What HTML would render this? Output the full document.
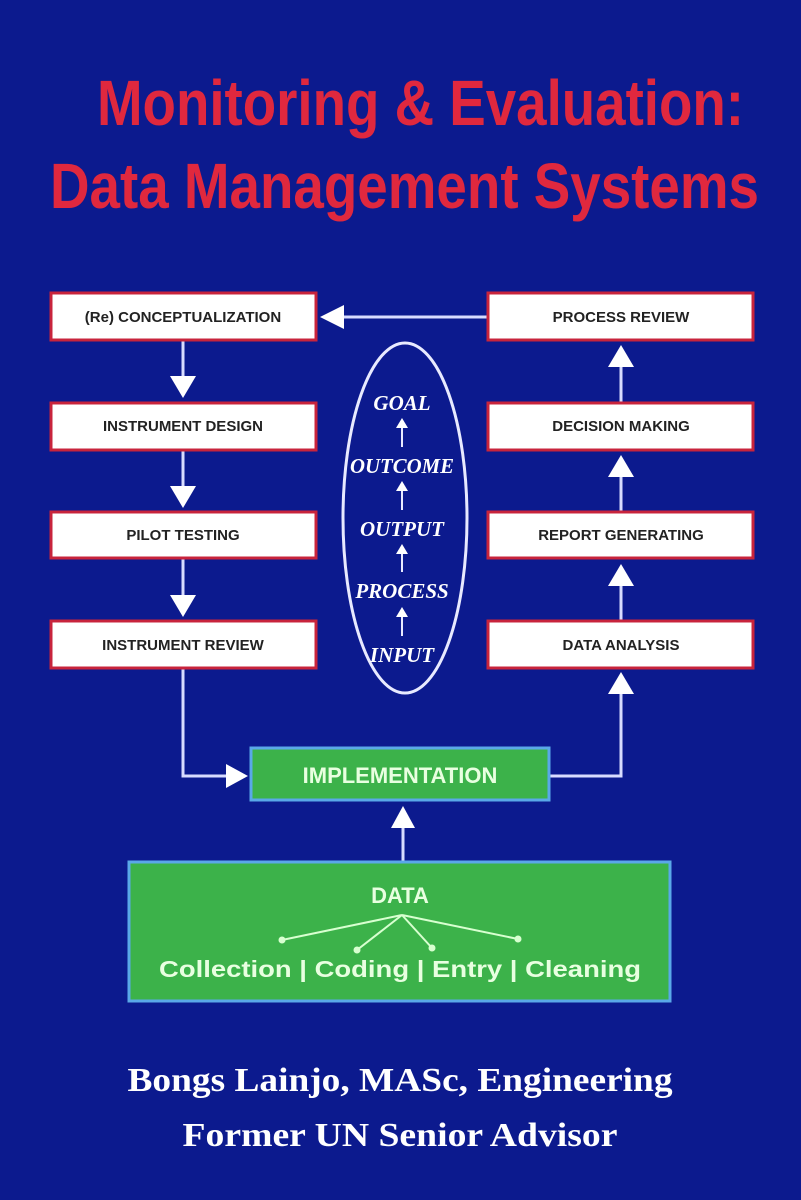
<!DOCTYPE html>
<html><head><meta charset="utf-8"><style>
html,body{margin:0;padding:0;background:#0c1a8e;}
svg{display:block}
</style></head><body>
<svg width="801" height="1200" viewBox="0 0 801 1200" xmlns="http://www.w3.org/2000/svg">
<rect width="801" height="1200" fill="#0c1a8e"/>
<g font-family="Liberation Sans, Arial, sans-serif" font-weight="bold" fill="#e0283e">
<text x="97" y="125" font-size="64" textLength="647" lengthAdjust="spacingAndGlyphs">Monitoring &amp; Evaluation:</text>
<text x="50" y="208" font-size="64" textLength="709" lengthAdjust="spacingAndGlyphs">Data Management Systems</text>
</g>
<g stroke="#d8dcff" stroke-width="3" fill="none">
<line x1="487" y1="317" x2="335" y2="317"/>
<line x1="183" y1="340" x2="183" y2="380"/>
<line x1="183" y1="450" x2="183" y2="490"/>
<line x1="183" y1="558" x2="183" y2="598"/>
<polyline points="183,668 183,776 232,776"/>
<polyline points="550,776 621,776 621,690"/>
<line x1="621" y1="620" x2="621" y2="580"/>
<line x1="621" y1="511" x2="621" y2="470"/>
<line x1="621" y1="402" x2="621" y2="360"/>
<line x1="403" y1="861" x2="403" y2="820"/>
</g>
<g fill="#ffffff">
<polygon points="320,317 344,305 344,329"/>
<polygon points="183,398 170,376 196,376"/>
<polygon points="183,508 170,486 196,486"/>
<polygon points="183,617 170,595 196,595"/>
<polygon points="248,776 226,764 226,788"/>
<polygon points="621,672 608,694 634,694"/>
<polygon points="621,564 608,586 634,586"/>
<polygon points="621,455 608,477 634,477"/>
<polygon points="621,345 608,367 634,367"/>
<polygon points="403,806 391,828 415,828"/>
</g>
<g fill="#ffffff" stroke="#c8243c" stroke-width="3">
<rect x="51" y="293" width="265" height="47"/>
<rect x="51" y="403" width="265" height="47"/>
<rect x="51" y="512" width="265" height="46"/>
<rect x="51" y="621" width="265" height="47"/>
<rect x="488" y="293" width="265" height="47"/>
<rect x="488" y="403" width="265" height="47"/>
<rect x="488" y="512" width="265" height="46"/>
<rect x="488" y="621" width="265" height="47"/>
</g>
<g font-family="Liberation Sans, Arial, sans-serif" font-weight="bold" font-size="15" fill="#222" text-anchor="middle">
<text x="183" y="322">(Re) CONCEPTUALIZATION</text>
<text x="183" y="431">INSTRUMENT DESIGN</text>
<text x="183" y="540">PILOT TESTING</text>
<text x="183" y="650">INSTRUMENT REVIEW</text>
<text x="621" y="322">PROCESS REVIEW</text>
<text x="621" y="431">DECISION MAKING</text>
<text x="621" y="540">REPORT GENERATING</text>
<text x="621" y="650">DATA ANALYSIS</text>
</g>
<ellipse cx="405" cy="518" rx="62" ry="175" fill="none" stroke="#e8eaff" stroke-width="3"/>
<g font-family="Liberation Serif, serif" font-weight="bold" font-style="italic" font-size="21" fill="#ffffff" text-anchor="middle">
<text x="402" y="410">GOAL</text>
<text x="402" y="473" textLength="104" lengthAdjust="spacingAndGlyphs">OUTCOME</text>
<text x="402" y="536">OUTPUT</text>
<text x="402" y="598">PROCESS</text>
<text x="402" y="662">INPUT</text>
</g>
<g stroke="#e8eaff" stroke-width="2"><line x1="402" y1="425" x2="402" y2="447"/><line x1="402" y1="488" x2="402" y2="510"/><line x1="402" y1="551" x2="402" y2="572"/><line x1="402" y1="614" x2="402" y2="636"/></g>
<g fill="#ffffff"><polygon points="402,418 396,428 408,428"/><polygon points="402,481 396,491 408,491"/><polygon points="402,544 396,554 408,554"/><polygon points="402,607 396,617 408,617"/></g>
<rect x="251" y="748" width="298" height="52" fill="#3cb24a" stroke="#5aa8e8" stroke-width="3"/>
<text x="400" y="783" font-family="Liberation Sans, Arial, sans-serif" font-weight="bold" font-size="22" fill="#e8ffe0" text-anchor="middle">IMPLEMENTATION</text>
<rect x="129" y="862" width="541" height="139" fill="#3cb24a" stroke="#5aa8e8" stroke-width="3"/>
<text x="400" y="903" font-family="Liberation Sans, Arial, sans-serif" font-weight="bold" font-size="22" fill="#e8ffe0" text-anchor="middle">DATA</text>
<g stroke="#d8ffd0" stroke-width="2" fill="none">
<line x1="402" y1="915" x2="282" y2="940"/>
<line x1="402" y1="915" x2="357" y2="950"/>
<line x1="402" y1="915" x2="432" y2="948"/>
<line x1="402" y1="915" x2="518" y2="939"/>
</g>
<g fill="#d8ffd0"><circle cx="282" cy="940" r="3.5"/><circle cx="357" cy="950" r="3.5"/><circle cx="432" cy="948" r="3.5"/><circle cx="518" cy="939" r="3.5"/></g>
<text x="400" y="977" font-family="Liberation Sans, Arial, sans-serif" font-weight="bold" font-size="23" fill="#e8ffe0" text-anchor="middle" textLength="482" lengthAdjust="spacingAndGlyphs">Collection | Coding | Entry | Cleaning</text>
<g font-family="Liberation Serif, serif" font-weight="bold" font-size="34" fill="#ffffff" text-anchor="middle">
<text x="400" y="1091" textLength="545" lengthAdjust="spacingAndGlyphs">Bongs Lainjo, MASc, Engineering</text>
<text x="400" y="1146" textLength="435" lengthAdjust="spacingAndGlyphs">Former UN Senior Advisor</text>
</g>
</svg>
</body></html>
